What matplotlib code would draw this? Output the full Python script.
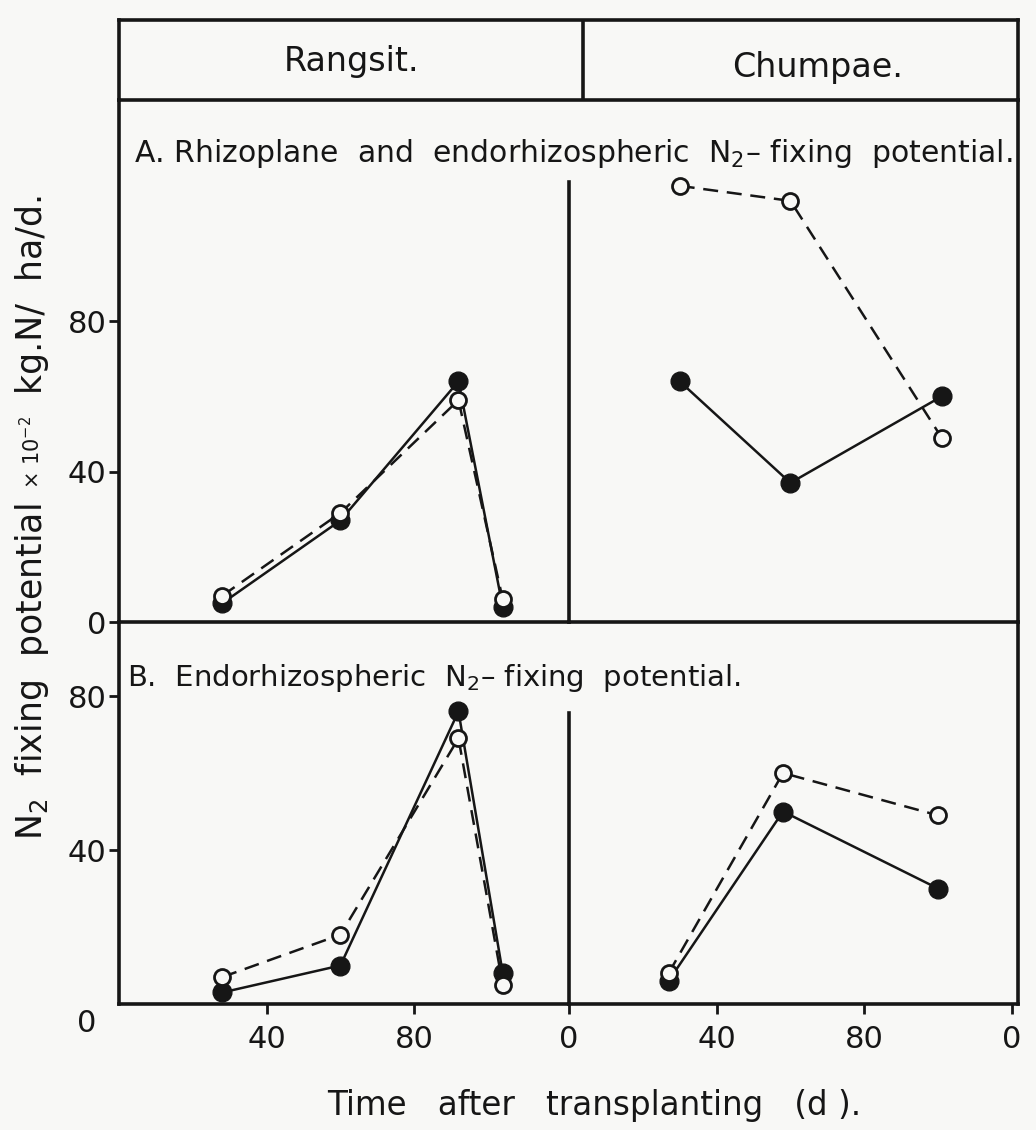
import matplotlib
matplotlib.use('Agg')
import matplotlib.pyplot as plt

W, H = 1036, 1130
plt.rcParams['font.family'] = ['DejaVu Sans']
plt.rcParams['mathtext.fontset'] = 'dejavusans'

INK = '#161616'
PAPER = '#f8f8f6'

# sampling days and N2-fixing potential (x 10^-2 kg N/ha/d)
rangsit_days = [28, 60, 92, 104]
rangsit_a_closed = [5, 27, 64, 4]
rangsit_a_open = [7, 29, 59, 6]
rangsit_b_closed = [3, 10, 76, 8]
rangsit_b_open = [7, 18, 69, 5]

chumpae_days_a = [30, 60, 101]
chumpae_a_closed = [64, 37, 60]
chumpae_a_open = [116, 112, 49]
chumpae_days_b = [27, 58, 100]
chumpae_b_closed = [6, 50, 30]
chumpae_b_open = [8, 60, 49]

sites = ['Rangsit.', 'Chumpae.']
panel_titles = ['A. Rhizoplane  and  endorhizospheric  N$_2$\u2013 fixing  potential.',
                'B.  Endorhizospheric  N$_2$\u2013 fixing  potential.']
ylabel_parts = ['N$_2$  fixing  potential  ', '\u00d7 10$^{-2}$', '  kg.N/  ha/d.']
xlabel = 'Time   after   transplanting   (d ).'

a_yticks = [0, 40, 80]
b_yticks = [40, 80]
rangsit_xticks = [40, 80]
chumpae_xticks = [0, 40, 80, 120]
chumpae_xticklabels = ['0', '40', '80', '0']

# frame geometry in pixels
LEFT, MID, RIGHT = 119, 569, 1018
TOP, HDR, SPLIT, BASE = 20, 100, 622, 1004
A_SCALE, B_SCALE, DAY = 3.76, 3.85, 3.69
LW = 2.6
FS = 22


def box(x0, y0, x1, y1):
    return [x0 / W, 1 - y1 / H, (x1 - x0) / W, (y1 - y0) / H]


def draw_series(ax, days, closed, opened):
    ax.plot(days, closed, '-', color=INK, lw=1.8, marker='o', ms=13.5,
            mfc=INK, mec=INK, clip_on=False, zorder=3)
    ax.plot(days, opened, '--', color=INK, lw=1.8, dashes=(6, 3.5), marker='o',
            ms=11.5, mfc=PAPER, mec=INK, mew=2, clip_on=False, zorder=4)


def frame(ax, left=True, right=False, bottom=True):
    ax.patch.set_alpha(0)
    ax.spines['top'].set_visible(False)
    ax.spines['left'].set_visible(left)
    ax.spines['right'].set_visible(right)
    ax.spines['bottom'].set_visible(bottom)
    for s in ax.spines.values():
        s.set_linewidth(LW)
        s.set_color(INK)
    ax.tick_params(direction='out', length=7, width=2, color=INK,
                   labelsize=FS, labelcolor=INK)
    ax.set_xticks([])
    ax.set_yticks([])


fig = plt.figure(figsize=(W / 100, H / 100), dpi=100, facecolor=PAPER)

# header strip with site names
hdr = fig.add_axes(box(LEFT, TOP, RIGHT, HDR))
hdr.set_xlim(LEFT, RIGHT)
hdr.set_ylim(HDR, TOP)
hdr.patch.set_alpha(0)
for s in hdr.spines.values():
    s.set_linewidth(LW)
    s.set_color(INK)
hdr.set_xticks([])
hdr.set_yticks([])
hdr.axvline(583, color=INK, lw=LW)
hdr.text(352, 62, sites[0], ha='center', va='center', fontsize=24, color=INK)
hdr.text(818, 68, sites[1], ha='center', va='center', fontsize=24, color=INK)

a_top = (SPLIT - HDR) / A_SCALE
b_top = (BASE - SPLIT) / B_SCALE

ax_ra = fig.add_axes(box(LEFT, HDR, MID, SPLIT))
ax_ca = fig.add_axes(box(MID, HDR, RIGHT, SPLIT))
ax_rb = fig.add_axes(box(LEFT, SPLIT, MID, BASE))
ax_cb = fig.add_axes(box(MID, SPLIT, RIGHT, BASE))

frame(ax_ra)
frame(ax_ca, right=True)
frame(ax_rb)
frame(ax_cb, right=True)

for ax in (ax_ra, ax_rb):
    ax.set_xlim(0, (MID - LEFT) / DAY)
for ax in (ax_ca, ax_cb):
    ax.set_xlim(0, (RIGHT - MID) / DAY)
ax_ra.set_ylim(0, a_top)
ax_ca.set_ylim(0, a_top)
ax_rb.set_ylim(0, b_top)
ax_cb.set_ylim(0, b_top)

# Chumpae separators stop short of the panel titles
ax_ca.spines['left'].set_bounds(0, (SPLIT - 182) / A_SCALE)
ax_cb.spines['left'].set_bounds(0, (BASE - 713) / B_SCALE)

ax_ra.set_yticks(a_yticks)
ax_ra.set_yticklabels([str(v) for v in a_yticks])
ax_rb.set_yticks(b_yticks)
ax_rb.set_yticklabels([str(v) for v in b_yticks])
for ax in (ax_ra, ax_rb):
    ax.tick_params(axis='y', pad=2)

ax_rb.set_xticks(rangsit_xticks)
ax_rb.set_xticklabels([str(v) for v in rangsit_xticks])
ax_cb.set_xticks(chumpae_xticks)
ax_cb.set_xticklabels(chumpae_xticklabels)
for ax in (ax_rb, ax_cb):
    ax.tick_params(axis='x', pad=8)
ax_rb.annotate('0', xy=(0, 0), xytext=(-23, -14), textcoords='offset points',
               ha='center', va='center', fontsize=FS, color=INK)

draw_series(ax_ra, rangsit_days, rangsit_a_closed, rangsit_a_open)
draw_series(ax_ca, chumpae_days_a, chumpae_a_closed, chumpae_a_open)
draw_series(ax_rb, rangsit_days, rangsit_b_closed, rangsit_b_open)
draw_series(ax_cb, chumpae_days_b, chumpae_b_closed, chumpae_b_open)

fig.text(134 / W, 1 - 153 / H, panel_titles[0], ha='left', va='center',
         fontsize=21.5, color=INK)
fig.text(127 / W, 1 - 678 / H, panel_titles[1], ha='left', va='center',
         fontsize=21, color=INK)

# rotated y label built from pieces so the multiplier can be smaller
t1 = fig.text(32 / W, 1 - 840 / H, ylabel_parts[0], rotation=90,
              ha='center', va='bottom', fontsize=25, color=INK)
t2 = ax_ra.annotate(ylabel_parts[1], xy=(0.5, 1), xycoords=t1, rotation=90,
                    ha='center', va='bottom', fontsize=15, color=INK,
                    annotation_clip=False)
ax_ra.annotate(ylabel_parts[2], xy=(0.5, 1), xycoords=t2, rotation=90,
               ha='center', va='bottom', fontsize=25, color=INK,
               annotation_clip=False)

fig.text(594 / W, 1 - 1105 / H, xlabel, ha='center', va='center',
         fontsize=23.5, color=INK)

fig.savefig('out.png', dpi=100, facecolor=PAPER)
